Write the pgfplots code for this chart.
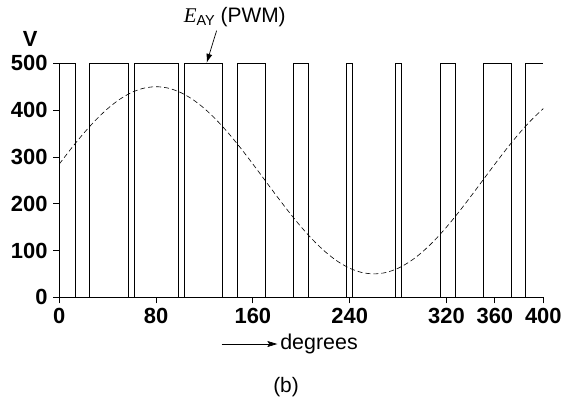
\documentclass[border=0pt]{standalone}
\usepackage{fontspec}
\setmainfont{Liberation Sans}
\newfontfamily\seriffont{Liberation Serif}
\usepackage{pgfplots}
\pgfplotsset{compat=1.18}
\usetikzlibrary{arrows.meta}
\begin{document}
\begin{tikzpicture}
\begin{axis}[
  scale only axis,
  width=484bp, height=234bp,
  xmin=0, xmax=400, ymin=0, ymax=500,
  axis lines=left,
  axis line style={line width=1bp, -},
  clip=false,
  xtick={0,80,160,240,320,360,400},
  ytick={0,100,200,300,400,500},
  tick align=outside,
  major tick length=6bp,
  tick style={line width=0.8bp, black},
  /pgf/number format/assume math mode=true,
  ticklabel style={font=\bfseries\fontsize{22}{22}\selectfont, inner sep=0pt},
  yticklabel style={anchor=east, xshift=-5.6bp},
  xticklabel style={anchor=north, yshift=-5bp},
]
\addplot[black, line width=0.6bp] coordinates {
(0,500)(13.3,500)(13.3,0)(25,0)(25,500)(57.4,500)(57.4,0)(62.2,0)(62.2,500)
(98.1,500)(98.1,0)(102.9,0)(102.9,500)(134.9,500)(134.9,0)(146.9,0)(146.9,500)
(170.2,500)(170.2,0)(193,0)(193,500)(205.9,500)(205.9,0)(237.3,0)(237.3,500)
(242.4,500)(242.4,0)(278,0)(278,500)(283,500)(283,0)(315.1,0)(315.1,500)
(327.3,500)(327.3,0)(350.4,0)(350.4,500)(373.7,500)(373.7,0)(385.4,0)(385.4,500)
(400,500)
};
\addplot[black, line width=0.6bp, dash pattern=on 5bp off 3bp, smooth] coordinates {
(0,284.73)(10,318.40)(20,350)(30,378.56)(40,403.21)(50,423.21)(60,437.94)
(70,446.96)(80,450)(90,446.96)(100,437.94)(110,423.21)(120,403.21)(130,378.56)
(140,350)(150,318.40)(160,284.73)(170,250)(180,215.27)(190,181.60)(200,150)
(210,121.44)(220,96.79)(230,76.79)(240,62.06)(250,53.04)(260,50)(270,53.04)
(280,62.06)(290,76.79)(300,96.79)(310,121.44)(320,150)(330,181.60)(340,215.27)
(350,250)(360,284.73)(370,318.40)(380,350)(390,378.56)(400,403.21)
};
\node[font=\bfseries\fontsize{22}{22}\selectfont] at (axis cs:-24,553) {V};
\node[font=\fontsize{21}{21}\selectfont] at (axis cs:145,599)
  {{\seriffont\itshape E}\raisebox{-3bp}{\fontsize{14.5}{14.5}\selectfont AY} (PWM)};
\draw[line width=0.7bp, -{Latex[length=9bp,width=6bp]}] (axis cs:130,569.7) -- (axis cs:121.8,501);
\draw[line width=0.7bp, -{Stealth[length=10bp,width=6bp,inset=2bp]}] (axis cs:134.2,-99.8) -- (axis cs:180.2,-99.8);
\node[font=\fontsize{21.5}{21.5}\selectfont, anchor=base west, inner sep=0pt] at (axis cs:182.5,-110.5) {degrees};
\node[font=\fontsize{21}{21}\selectfont, anchor=base, inner sep=0pt] at (axis cs:187.4,-203.8) {(b)};
\end{axis}
\path (-59.3bp,-102.7bp) rectangle (508.7bp,297.3bp);
\end{tikzpicture}
\end{document}
